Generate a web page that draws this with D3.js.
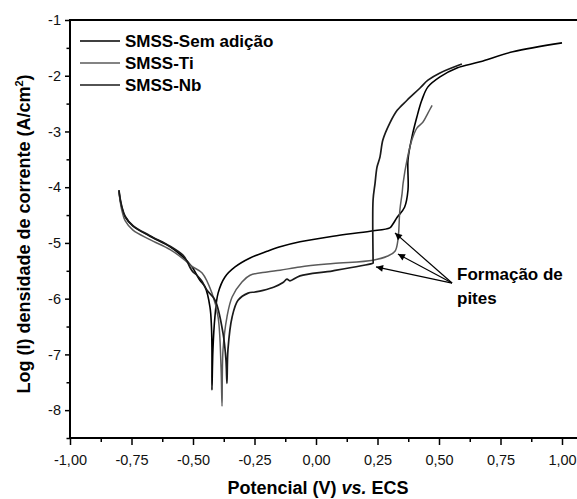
<!DOCTYPE html>
<html>
<head>
<meta charset="utf-8">
<script src="https://cdn.jsdelivr.net/npm/d3@7"></script>
<style>
  body { margin: 0; background: #fff; }
  svg { display: block; font-family: "Liberation Sans", Arial, sans-serif; }
  .tick text { font-size: 14.5px; fill: #111; }
</style>
</head>
<body>
<script>
// potential (V vs. ECS) and log current density for each alloy
var semE = [-0.801, -0.795, -0.789, -0.776, -0.744, -0.675, -0.593, -0.541, -0.504, -0.472, -0.451, -0.431, -0.425, -0.423, -0.423,
    -0.419, -0.411, -0.398, -0.370, -0.329, -0.268, -0.199, -0.146, -0.065, 0.069, 0.220, 0.300, 0.310, 0.330, 0.360, 0.374, 0.374,
    0.390, 0.410, 0.430, 0.455, 0.504, 0.573, 0.667, 0.800, 1.000];
var semLogI = [-4.07, -4.25, -4.37, -4.53, -4.70, -4.88, -5.07, -5.25, -5.43, -5.67, -5.79, -6.15, -6.50, -6.92, -7.64,
    -6.92, -6.33, -5.90, -5.61, -5.43, -5.27, -5.15, -5.07, -4.98, -4.88, -4.79, -4.73, -4.68, -4.54, -4.36, -4.05, -3.51,
    -3.10, -2.74, -2.44, -2.20, -2.02, -1.86, -1.75, -1.57, -1.41];

var tiE = [-0.801, -0.795, -0.789, -0.776, -0.744, -0.675, -0.593, -0.541, -0.504, -0.463, -0.423, -0.398, -0.386, -0.382,
    -0.378, -0.362, -0.341, -0.301, -0.268, -0.199, -0.146, -0.065, 0.069, 0.232, 0.289, 0.321, 0.333, 0.341, 0.350,
    0.354, 0.370, 0.390, 0.410, 0.435, 0.455, 0.472];
var tiLogI = [-4.09, -4.28, -4.42, -4.60, -4.77, -4.94, -5.12, -5.28, -5.42, -5.54, -5.90, -6.33, -7.23, -7.93,
    -6.92, -6.33, -5.97, -5.70, -5.58, -5.52, -5.49, -5.43, -5.37, -5.31, -5.24, -5.15, -4.95, -4.41, -4.11,
    -3.93, -3.51, -3.15, -2.94, -2.83, -2.67, -2.53];

var nbE = [-0.801, -0.795, -0.789, -0.776, -0.744, -0.675, -0.593, -0.541, -0.524, -0.512, -0.500, -0.484, -0.465, -0.443,
    -0.410, -0.378, -0.366, -0.362, -0.358, -0.341, -0.317, -0.276, -0.248, -0.215, -0.170, -0.134, -0.118, -0.106, -0.065,
    0.069, 0.228, 0.232, 0.232, 0.232, 0.240, 0.248, 0.260, 0.272, 0.300, 0.330, 0.370, 0.423, 0.455, 0.504, 0.593];
var nbLogI = [-4.05, -4.23, -4.35, -4.52, -4.69, -4.87, -5.06, -5.22, -5.33, -5.44, -5.52, -5.58, -5.68, -5.85,
    -6.03, -6.62, -7.10, -7.52, -6.92, -6.33, -6.03, -5.90, -5.88, -5.85, -5.79, -5.71, -5.65, -5.68, -5.59,
    -5.50, -5.37, -5.36, -5.30, -4.23, -3.93, -3.64, -3.46, -3.15, -2.85, -2.62, -2.44, -2.22, -2.08, -1.95, -1.79];

var seriesNames = ["SMSS-Sem adição", "SMSS-Ti", "SMSS-Nb"];
var seriesColors = ["#000", "#5a5a5a", "#1a1a1a"];

var xTicks = [-1, -0.75, -0.5, -0.25, 0, 0.25, 0.5, 0.75, 1];
var xMinor = [-0.875, -0.625, -0.375, -0.125, 0.125, 0.375, 0.625, 0.875];
var yTicks = [-8, -7, -6, -5, -4, -3, -2, -1];
var yMinor = [-8.5, -7.5, -6.5, -5.5, -4.5, -3.5, -2.5, -1.5];

// arrow tips for the pitting annotation, and their shared tail
var arrowTipE = [0.321, 0.333, 0.244];
var arrowTipLogI = [-4.82, -5.20, -5.43];
var arrowTail = [0.553, -5.72];

var W = 577, H = 499,
    mLeft = 70, mTop = 20, mRight = 562, mBottom = 438;

var x = d3.scaleLinear().domain([-1, 1]).range([mLeft, mRight]);
var y = d3.scaleLinear().domain([-8.5, -1]).range([mBottom, mTop]);

var svg = d3.select("body").append("svg")
    .attr("width", W)
    .attr("height", H);

var defs = svg.append("defs");
defs.append("marker")
    .attr("id", "head")
    .attr("viewBox", "0 0 10 10")
    .attr("refX", 10).attr("refY", 5)
    .attr("markerWidth", 11).attr("markerHeight", 7)
    .attr("markerUnits", "userSpaceOnUse")
    .attr("orient", "auto")
    .append("path").attr("d", "M0,0L10,5L0,10z").attr("fill", "#000");

var hyphen = function (s) { return s.replace("\u2212", "-"); };
var commaFmt = function (d) { return hyphen(d3.format(".2f")(d).replace(".", ",")); };
var intFmt = function (d) { return hyphen(d3.format("d")(d)); };

// x axis
var xAxis = svg.append("g")
    .attr("transform", "translate(0," + mBottom + ")")
    .call(d3.axisBottom(x).tickValues(xTicks).tickSize(7).tickPadding(7).tickFormat(commaFmt));
svg.append("g")
    .attr("transform", "translate(0," + mBottom + ")")
    .call(d3.axisBottom(x).tickValues(xMinor).tickSize(4).tickFormat(""))
    .select(".domain").remove();

// y axis
var yAxis = svg.append("g")
    .attr("transform", "translate(" + mLeft + ",0)")
    .call(d3.axisLeft(y).tickValues(yTicks).tickSize(5).tickPadding(4).tickFormat(intFmt));
svg.append("g")
    .attr("transform", "translate(" + mLeft + ",0)")
    .call(d3.axisLeft(y).tickValues(yMinor).tickSize(3.5).tickFormat(""))
    .select(".domain").remove();

svg.selectAll(".domain").attr("stroke", "#000").attr("stroke-width", 2);
svg.selectAll(".tick line").attr("stroke", "#000").attr("stroke-width", 1.5);
xAxis.selectAll(".tick text").attr("dy", "0.9em");
xAxis.select(".domain").attr("d", "M" + (mLeft - 1) + ",0H" + W);
yAxis.select(".domain").attr("d", "M0," + 1 + "V" + (mTop - mBottom)).attr("transform", "translate(0," + mBottom + ")");

// top frame line
svg.append("line")
    .attr("x1", mLeft - 1).attr("x2", W)
    .attr("y1", mTop).attr("y2", mTop)
    .attr("stroke", "#000").attr("stroke-width", 2);

// curves
var line = d3.line()
    .x(function (d) { return x(d[0]); })
    .y(function (d) { return y(d[1]); })
    .curve(d3.curveCatmullRom.alpha(0.5));

var series = [
    d3.zip(semE, semLogI),
    d3.zip(tiE, tiLogI),
    d3.zip(nbE, nbLogI)
];
var widths = [1.6, 1.5, 1.7];

svg.selectAll(".curve")
    .data(series)
    .enter().append("path")
    .attr("class", "curve")
    .attr("d", line)
    .attr("fill", "none")
    .attr("stroke", function (d, i) { return seriesColors[i]; })
    .attr("stroke-width", function (d, i) { return widths[i]; })
    .attr("stroke-linejoin", "round");

// legend
var legend = svg.append("g");
var legendY = [41, 63, 85];
seriesNames.forEach(function (name, i) {
    legend.append("line")
        .attr("x1", 80).attr("x2", 120)
        .attr("y1", legendY[i]).attr("y2", legendY[i])
        .attr("stroke", seriesColors[i])
        .attr("stroke-width", widths[i]);
    legend.append("text")
        .attr("x", 125).attr("y", legendY[i] + 6)
        .attr("font-size", "17px").attr("font-weight", "bold")
        .text(name);
});

// pitting annotation
arrowTipE.forEach(function (e, i) {
    svg.append("line")
        .attr("x1", x(arrowTail[0])).attr("y1", y(arrowTail[1]))
        .attr("x2", x(e)).attr("y2", y(arrowTipLogI[i]))
        .attr("stroke", "#000").attr("stroke-width", 1.2)
        .attr("marker-end", "url(#head)");
});
svg.append("text")
    .attr("x", 457).attr("y", 280)
    .attr("font-size", "17px").attr("font-weight", "bold")
    .text("Formação de");
svg.append("text")
    .attr("x", 457).attr("y", 304)
    .attr("font-size", "17px").attr("font-weight", "bold")
    .text("pites");

// axis titles
var xt = svg.append("text")
    .attr("x", (mLeft + mRight) / 2 + 2).attr("y", 494)
    .attr("text-anchor", "middle")
    .attr("font-size", "18px").attr("font-weight", "bold");
xt.append("tspan").text("Potencial (V) ");
xt.append("tspan").attr("font-style", "italic").text("vs.");
xt.append("tspan").text(" ECS");

var yt = svg.append("text")
    .attr("transform", "translate(30,234) rotate(-90)")
    .attr("text-anchor", "middle")
    .attr("font-size", "18px").attr("font-weight", "bold");
yt.append("tspan").text("Log (I) densidade de corrente (A/cm");
yt.append("tspan").attr("font-size", "11px").attr("dy", "-7").text("2");
yt.append("tspan").attr("dy", "7").text(")");
</script>
</body>
</html>
